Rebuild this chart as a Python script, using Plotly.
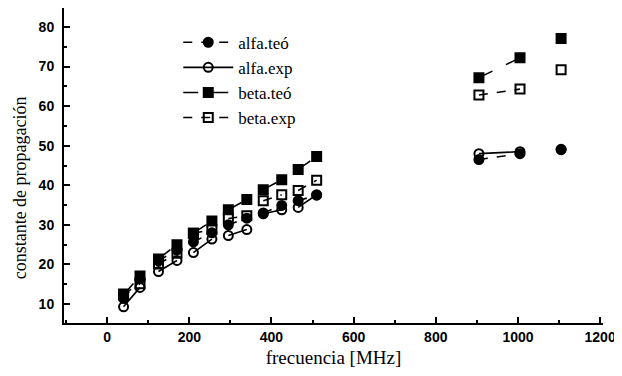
import plotly.graph_objects as go

# frequencies (MHz); None separates the measured pairs (lines only join pairs)
freq = [40, 80, None, 125, 170, None, 210, 255, None, 295, 340, None,
        380, 425, None, 465, 510, None, 905, 1005, None, 1105]

alfa_teo = [11.4, 16.4, None, 20.9, 23.7, None, 25.7, 28.0, None, 30.0, 31.7, None,
            33.0, 34.9, None, 36.1, 37.5, None, 46.5, 48.0, None, 49.0]
alfa_exp = [9.3, 14.2, None, 18.2, 21.0, None, 23.0, 26.4, None, 27.3, 28.8, None,
            32.8, 33.8, None, 34.4, 37.6, None, 48.0, 48.5, None, 49.1]
beta_teo = [12.3, 17.1, None, 21.4, 25.0, None, 27.9, 31.0, None, 33.8, 36.4, None,
            38.9, 41.4, None, 44.0, 47.3, None, 67.2, 72.2, None, 77.1]
beta_exp = [12.5, 15.1, None, 20.1, 22.8, None, 27.9, 28.8, None, 31.6, 32.3, None,
            36.1, 37.6, None, 38.7, 41.3, None, 62.8, 64.3, None, 69.2]

x_ticks = [0, 200, 400, 600, 800, 1000, 1200]
y_ticks = [10, 20, 30, 40, 50, 60, 70, 80]
y_title = "constante de propagación"

series = [
    ("alfa.teó", alfa_teo, "circle", "dash"),
    ("alfa.exp", alfa_exp, "circle-open", "solid"),
    ("beta.teó", beta_teo, "square", "longdash"),
    ("beta.exp", beta_exp, "square-open", "dash"),
]

fig = go.Figure()
for name, vals, sym, dash in series:
    fig.add_trace(go.Scatter(
        x=freq, y=vals, name=name, mode="lines+markers",
        connectgaps=False, cliponaxis=False,
        line=dict(color="black", width=1.6, dash=dash),
        marker=dict(symbol=sym, size=9, color="black",
                    line=dict(color="black", width=2)),
    ))

# page body adds an 8px offset, so the figure is 8px smaller than the window
fig.update_layout(
    width=614, height=368,
    margin=dict(l=56, r=19, t=0, b=53),
    paper_bgcolor="white", plot_bgcolor="white",
    showlegend=True,
    legend=dict(x=0.212, y=0.947, xanchor="left", yanchor="top",
                bgcolor="rgba(0,0,0,0)", itemwidth=50,
                font=dict(family="Liberation Serif", size=17, color="black"),
                tracegroupgap=0),
    font=dict(family="Liberation Serif", color="black"),
)
fig.add_annotation(
    text=y_title, textangle=-90, showarrow=False,
    xref="paper", yref="paper", x=-0.082, y=0.43,
    xanchor="center", yanchor="middle",
    font=dict(family="Liberation Serif", size=18, color="black"),
)

fig.update_xaxes(
    range=[-105, 1207], tickvals=x_ticks, ticktext=[str(v) for v in x_ticks],
    showgrid=False, zeroline=False, showline=True, linecolor="black", linewidth=2,
    ticks="inside", ticklen=6, tickwidth=1.5, tickcolor="black",
    minor=dict(ticks="inside", ticklen=3, dtick=100, tick0=0, tickcolor="black"),
    tickfont=dict(family="Liberation Sans", size=14, color="black", weight="bold"),
    title=dict(text="frecuencia [MHz]", standoff=7,
               font=dict(family="Liberation Serif", size=19, color="black")),
)
fig.update_yaxes(
    range=[5.2, 84.8], tickvals=y_ticks, ticktext=[str(v) for v in y_ticks],
    showgrid=False, zeroline=False, showline=True, linecolor="black", linewidth=2,
    ticks="inside", ticklen=6, tickwidth=1.5, tickcolor="black",
    minor=dict(ticks="inside", ticklen=3, dtick=5, tick0=0, tickcolor="black"),
    tickfont=dict(family="Liberation Sans", size=14, color="black", weight="bold"),
    ticklabelstandoff=5,
)

fig.write_html("out.html")
